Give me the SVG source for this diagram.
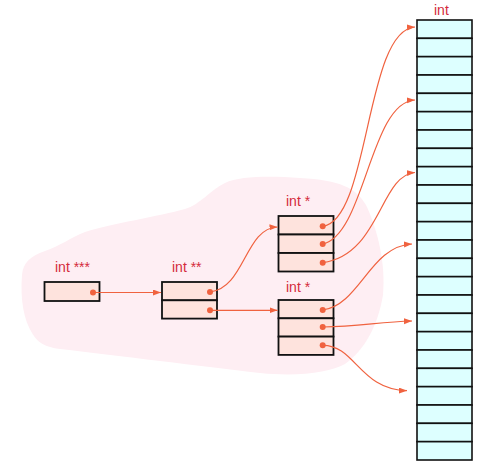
<svg xmlns="http://www.w3.org/2000/svg" width="477" height="461" viewBox="0 0 477 461">
<style>
.lbl{font-family:"Liberation Sans",Arial,sans-serif;font-size:14px;fill:#d42a3c}
.box{fill:#fee3dd;stroke:#111;stroke-width:1.8}
.cell{fill:#ddffff;stroke:#111;stroke-width:1.6}
.edge{fill:none;stroke:#f0623f;stroke-width:1.2}
.dot{fill:#f0623f}
</style>
<defs>
<marker id="ah" markerUnits="userSpaceOnUse" markerWidth="9" markerHeight="7" refX="8" refY="3" orient="auto">
<path d="M0,0 L8,3 L0,6 z" fill="#f0623f"/>
</marker>
</defs>
<path id="blob" d="M22,275 C20,300 24,320 32,333 C38,343 45,347 60,349 C120,356 200,366 260,373 C300,377 330,372 345,364 C365,350 378,325 383,295 C386,265 378,230 366,205 C356,188 340,180 300,178 C270,176 240,176 225,183 C210,190 200,205 185,209 C160,216 110,224 85,232 C70,238 60,246 45,251 C30,256 23,263 22,275 Z" fill="#feeef3"/>
<g id="node-int3">
<text class="lbl" x="55" y="272">int ***</text>
<rect class="box" x="44.5" y="282" width="55" height="19"/>
</g>
<g id="node-int2">
<text class="lbl" x="172" y="272">int **</text>
<rect class="box" x="162" y="282" width="55" height="18.3"/>
<rect class="box" x="162" y="300.3" width="55" height="18.3"/>
</g>
<g id="node-int1a">
<text class="lbl" x="286" y="206">int *</text>
<rect class="box" x="278.5" y="216" width="55" height="18.5"/>
<rect class="box" x="278.5" y="234.5" width="55" height="18.5"/>
<rect class="box" x="278.5" y="253" width="55" height="18.5"/>
</g>
<g id="node-int1b">
<text class="lbl" x="286" y="292">int *</text>
<rect class="box" x="278.5" y="300" width="55" height="18.3"/>
<rect class="box" x="278.5" y="318.3" width="55" height="18.3"/>
<rect class="box" x="278.5" y="336.6" width="55" height="18.3"/>
</g>
<g id="node-array">
<text class="lbl" x="434" y="15">int</text>
<rect class="cell" x="417" y="20" width="55" height="18.33"/>
<rect class="cell" x="417" y="38.33" width="55" height="18.33"/>
<rect class="cell" x="417" y="56.67" width="55" height="18.33"/>
<rect class="cell" x="417" y="75" width="55" height="18.33"/>
<rect class="cell" x="417" y="93.33" width="55" height="18.33"/>
<rect class="cell" x="417" y="111.67" width="55" height="18.33"/>
<rect class="cell" x="417" y="130" width="55" height="18.33"/>
<rect class="cell" x="417" y="148.33" width="55" height="18.33"/>
<rect class="cell" x="417" y="166.67" width="55" height="18.33"/>
<rect class="cell" x="417" y="185" width="55" height="18.33"/>
<rect class="cell" x="417" y="203.33" width="55" height="18.33"/>
<rect class="cell" x="417" y="221.67" width="55" height="18.33"/>
<rect class="cell" x="417" y="240" width="55" height="18.33"/>
<rect class="cell" x="417" y="258.33" width="55" height="18.33"/>
<rect class="cell" x="417" y="276.67" width="55" height="18.33"/>
<rect class="cell" x="417" y="295" width="55" height="18.33"/>
<rect class="cell" x="417" y="313.33" width="55" height="18.33"/>
<rect class="cell" x="417" y="331.67" width="55" height="18.33"/>
<rect class="cell" x="417" y="350" width="55" height="18.33"/>
<rect class="cell" x="417" y="368.33" width="55" height="18.33"/>
<rect class="cell" x="417" y="386.67" width="55" height="18.33"/>
<rect class="cell" x="417" y="405" width="55" height="18.33"/>
<rect class="cell" x="417" y="423.33" width="55" height="18.33"/>
<rect class="cell" x="417" y="441.67" width="55" height="18.33"/>
</g>
<g id="connectors">
<path class="edge" marker-end="url(#ah)" d="M93,292.5 L161,292.5"/>
<path class="edge" marker-end="url(#ah)" d="M210,292 C245,288 245,228 277.5,227"/>
<path class="edge" marker-end="url(#ah)" d="M210,310.3 L277.5,310.3"/>
<path class="edge" marker-end="url(#ah)" d="M322.7,226.3 C370,220 365,30 415,27"/>
<path class="edge" marker-end="url(#ah)" d="M322.7,244 C365,235 370,102 415,100"/>
<path class="edge" marker-end="url(#ah)" d="M322.7,262.7 C380,255 380,175 415,172.5"/>
<path class="edge" marker-end="url(#ah)" d="M322.7,310 C360,305 370,246 412,244"/>
<path class="edge" marker-end="url(#ah)" d="M322.7,327 C360,326 380,322 412,321"/>
<path class="edge" marker-end="url(#ah)" d="M322.7,345.3 C355,345 360,390 407,390.7"/>
<circle class="dot" cx="93" cy="292.5" r="3"/>
<circle class="dot" cx="210" cy="292" r="3"/>
<circle class="dot" cx="210" cy="310.3" r="3"/>
<circle class="dot" cx="322.7" cy="226.3" r="3"/>
<circle class="dot" cx="322.7" cy="244" r="3"/>
<circle class="dot" cx="322.7" cy="262.7" r="3"/>
<circle class="dot" cx="322.7" cy="310" r="3"/>
<circle class="dot" cx="322.7" cy="327" r="3"/>
<circle class="dot" cx="322.7" cy="345.3" r="3"/>
</g>
</svg>
